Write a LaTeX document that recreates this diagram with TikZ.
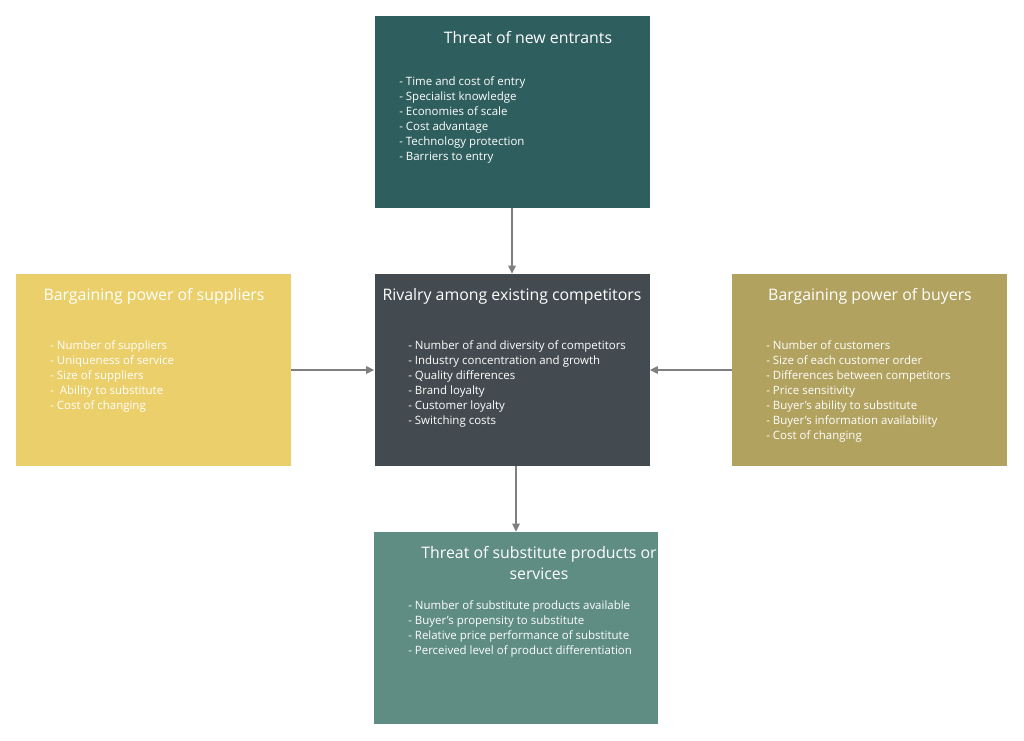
\documentclass[tikz,border=0pt]{standalone}
\usepackage{fontspec}
\setmainfont{Open Sans}
\usepackage{xcolor}
\definecolor{entrantteal}{HTML}{2F5E5E}
\definecolor{rivalgray}{HTML}{434B50}
\definecolor{supplieryellow}{HTML}{EBCF6B}
\definecolor{buyerolive}{HTML}{B2A25F}
\definecolor{substteal}{HTML}{5F8D83}
\definecolor{linkgray}{HTML}{7F7F7F}
\usetikzlibrary{positioning,arrows.meta}
\newcommand{\forcetitle}{\fontsize{11.9}{15.75}\selectfont}
\newcommand{\forceitems}{\fontsize{8.6}{11.25}\selectfont}

\begin{document}
\begin{tikzpicture}[
  x=0.75pt, y=-0.75pt,
  force/.style={draw=none, minimum width=206.25pt, minimum height=144pt, inner sep=0pt},
  title/.style={text=white, align=center, inner sep=0pt, font=\forcetitle},
  items/.style={text=white, align=left, anchor=north west, inner sep=0pt, font=\forceitems},
  link/.style={-{Triangle[length=6pt,width=5.5pt]}, linkgray, line width=1.1pt}
]
  \useasboundingbox (0,0) rectangle (1024,741);

  % the five forces
  \node[force, fill=entrantteal]    (entrants)  at (512,112) {};
  \node[force, fill=rivalgray]      (rivalry)   at (512,370) {};
  \node[force, fill=supplieryellow] (suppliers) at (153.5,370) {};
  \node[force, fill=buyerolive]     (buyers)    at (869.5,370) {};
  \node[force, fill=substteal, minimum width=213pt] (substitutes) at (516,628) {};

  % titles
  \node[title] (entrantsT)    at (528,38)  {Threat of new entrants};
  \node[title] (rivalryT)     at (512,296) {Rivalry among existing competitors};
  \node[title] (suppliersT)   at (154,296) {Bargaining power of suppliers};
  \node[title] (buyersT)      at (870,296) {Bargaining power of buyers};
  \node[title] (substitutesT) at (539,563) {Threat of substitute products or\\services};

  % bullet lists
  \node[items] (entrantsL) at (399,76)
        {- Time and cost of entry\\- Specialist knowledge\\- Economies of scale\\
         - Cost advantage\\- Technology protection\\- Barriers to entry};
  \node[items] (rivalryL) at (408,340)
        {- Number of and diversity of competitors\\- Industry concentration and growth\\
         - Quality differences\\- Brand loyalty\\- Customer loyalty\\- Switching costs};
  \node[items] (suppliersL) at (50,340)
        {- Number of suppliers\\- Uniqueness of service\\- Size of suppliers\\
         -\ \ Ability to substitute\\- Cost of changing};
  \node[items] (buyersL) at (766,340)
        {- Number of customers\\- Size of each customer order\\
         - Differences between competitors\\- Price sensitivity\\
         - Buyer's ability to substitute\\- Buyer's information availability\\
         - Cost of changing};
  \node[items] (substitutesL) at (408,600)
        {- Number of substitute products available\\- Buyer's propensity to substitute\\
         - Relative price performance of substitute\\
         - Perceived level of product differentiation};

  \draw[link] (entrants.south) -- (rivalry.north);
  \draw[link] (suppliers.east) -- (rivalry.west);
  \draw[link] (buyers.west) -- (rivalry.east);
  \draw[link] (substitutes.north |- rivalry.south) -- (substitutes.north);
\end{tikzpicture}
\end{document}
